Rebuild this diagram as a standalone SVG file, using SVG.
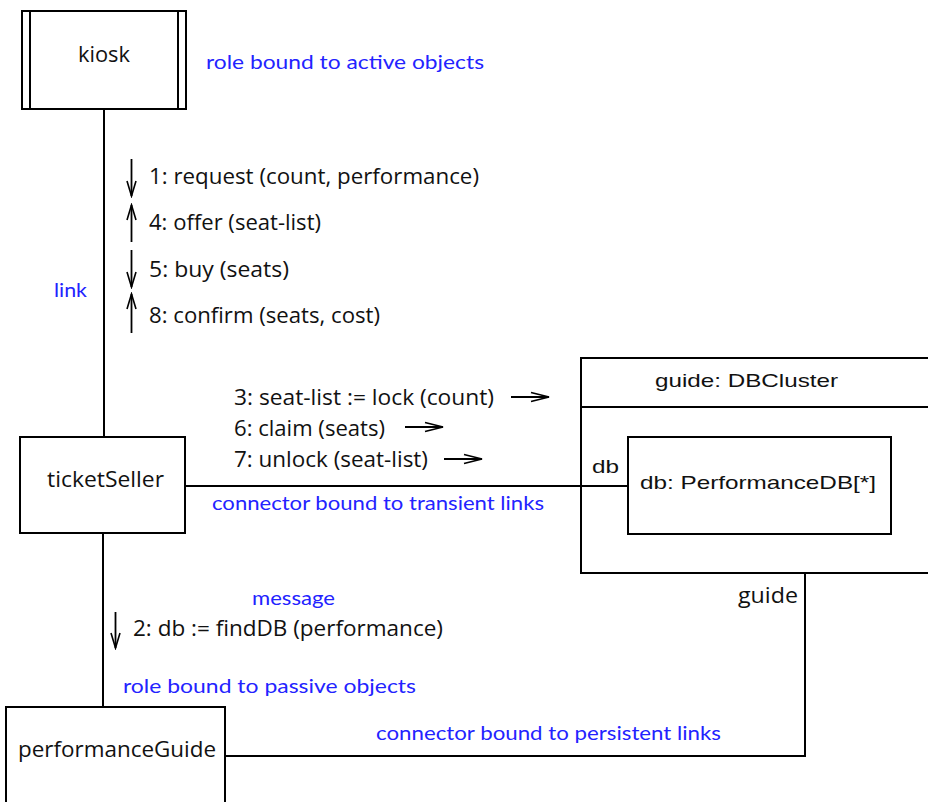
<svg xmlns="http://www.w3.org/2000/svg" width="928" height="802" viewBox="0 0 928 802">
  <style>
    .box { fill: #ffffff; stroke: #000000; stroke-width: 2; }
    .wire { fill: none; stroke: #000000; stroke-width: 2; }
    .msg { fill: none; stroke: #000000; stroke-width: 1.8; }
    .name { font-family: "Open Sans", "Liberation Sans", sans-serif; font-size: 22px; fill: #111111; }
    .lbl { font-family: "Open Sans", "Liberation Sans", sans-serif; font-size: 21px; fill: #111111; }
    .hv { font-family: "Liberation Sans", Arial, sans-serif; font-size: 18.5px; fill: #111111; }
    .note { font-family: Lato, "Liberation Sans", sans-serif; font-size: 19px; fill: #2323ff; }
  </style>
  <defs>
    <marker id="headV" markerUnits="userSpaceOnUse" viewBox="-16 -6 18 12" refX="0" refY="0" markerWidth="18" markerHeight="12" orient="auto">
      <polyline points="-15,-4.5 0,0 -15,4.5" fill="none" stroke="#000000" stroke-width="1.6"/>
    </marker>
    <marker id="headH" markerUnits="userSpaceOnUse" viewBox="-19 -6 21 12" refX="0" refY="0" markerWidth="21" markerHeight="12" orient="auto">
      <polyline points="-18,-4.5 0,0 -18,4.5" fill="none" stroke="#000000" stroke-width="1.6"/>
    </marker>
  </defs>

  <rect width="928" height="802" fill="#ffffff"/>

  <!-- kiosk (active object) -->
  <g id="kiosk">
    <rect class="box" x="22" y="11" width="164" height="98"/>
    <line class="wire" x1="30" y1="11" x2="30" y2="109"/>
    <line class="wire" x1="178" y1="11" x2="178" y2="109"/>
    <text class="name" x="78" y="62" textLength="52" lengthAdjust="spacingAndGlyphs">kiosk</text>
  </g>

  <!-- ticketSeller -->
  <g id="ticketSeller">
    <rect class="box" x="20" y="437" width="165" height="96"/>
    <text class="name" x="47" y="487" textLength="117" lengthAdjust="spacingAndGlyphs">ticketSeller</text>
  </g>

  <!-- performanceGuide -->
  <g id="performanceGuide">
    <rect class="box" x="6" y="707" width="219" height="110"/>
    <text class="name" x="18" y="757" textLength="198" lengthAdjust="spacingAndGlyphs">performanceGuide</text>
  </g>

  <!-- guide: DBCluster with nested db part -->
  <g id="dbCluster">
    <rect class="box" x="581" y="358" width="360" height="215"/>
    <line class="wire" x1="581" y1="407" x2="928" y2="407"/>
    <text class="hv" x="655" y="387" textLength="183" lengthAdjust="spacingAndGlyphs">guide: DBCluster</text>
  </g>
  <g id="performanceDB">
    <rect class="box" x="628" y="437" width="263" height="97"/>
    <text class="hv" x="640" y="489" textLength="236" lengthAdjust="spacingAndGlyphs">db: PerformanceDB[*]</text>
  </g>

  <!-- connectors, drawn over the node fills so the db link crosses the cluster border -->
  <g id="connectors">
    <line class="wire" x1="104" y1="108" x2="104" y2="437"/>
    <line class="wire" x1="103" y1="533" x2="103" y2="707"/>
    <line class="wire" x1="185" y1="486" x2="628" y2="486"/>
    <polyline class="wire" points="225,756 805,756 805,573"/>
  </g>

  <!-- role names at connector ends -->
  <g id="roleNames">
    <text class="hv" x="592" y="473" textLength="27" lengthAdjust="spacingAndGlyphs">db</text>
    <text class="lbl" x="738" y="603" textLength="60" lengthAdjust="spacingAndGlyphs">guide</text>
  </g>

  <!-- messages kiosk <-> ticketSeller -->
  <g id="kioskMessages">
    <line class="msg" x1="131.5" y1="159" x2="131.5" y2="196" marker-end="url(#headV)"/>
    <line class="msg" x1="131.5" y1="242" x2="131.5" y2="205" marker-end="url(#headV)"/>
    <line class="msg" x1="131.5" y1="250" x2="131.5" y2="287" marker-end="url(#headV)"/>
    <line class="msg" x1="131.5" y1="333" x2="131.5" y2="294" marker-end="url(#headV)"/>
    <text class="lbl" x="149" y="184" textLength="330" lengthAdjust="spacingAndGlyphs">1: request (count, performance)</text>
    <text class="lbl" x="149" y="230" textLength="172" lengthAdjust="spacingAndGlyphs">4: offer (seat-list)</text>
    <text class="lbl" x="149" y="277" textLength="140" lengthAdjust="spacingAndGlyphs">5: buy (seats)</text>
    <text class="lbl" x="149" y="323" textLength="231" lengthAdjust="spacingAndGlyphs">8: confirm (seats, cost)</text>
  </g>

  <!-- messages ticketSeller -> db -->
  <g id="dbMessages">
    <line class="msg" x1="511" y1="397" x2="549" y2="397" marker-end="url(#headH)"/>
    <line class="msg" x1="405" y1="427" x2="443" y2="427" marker-end="url(#headH)"/>
    <line class="msg" x1="444" y1="459" x2="482" y2="459" marker-end="url(#headH)"/>
    <text class="lbl" x="234" y="405" textLength="260" lengthAdjust="spacingAndGlyphs">3: seat-list := lock (count)</text>
    <text class="lbl" x="234" y="436" textLength="151" lengthAdjust="spacingAndGlyphs">6: claim (seats)</text>
    <text class="lbl" x="234" y="467" textLength="194" lengthAdjust="spacingAndGlyphs">7: unlock (seat-list)</text>
  </g>

  <!-- message ticketSeller -> performanceGuide -->
  <g id="guideMessage">
    <line class="msg" x1="115.5" y1="612" x2="115.5" y2="648" marker-end="url(#headV)"/>
    <text class="lbl" x="133" y="636" textLength="310" lengthAdjust="spacingAndGlyphs">2: db := findDB (performance)</text>
  </g>

  <!-- annotations -->
  <g id="annotations">
    <text class="note" x="206" y="69" textLength="278" lengthAdjust="spacingAndGlyphs">role bound to active objects</text>
    <text class="note" x="54" y="297" textLength="33" lengthAdjust="spacingAndGlyphs">link</text>
    <text class="note" x="212" y="510" textLength="332" lengthAdjust="spacingAndGlyphs">connector bound to transient links</text>
    <text class="note" x="252" y="605" textLength="83" lengthAdjust="spacingAndGlyphs">message</text>
    <text class="note" x="123" y="693" textLength="293" lengthAdjust="spacingAndGlyphs">role bound to passive objects</text>
    <text class="note" x="376" y="740" textLength="345" lengthAdjust="spacingAndGlyphs">connector bound to persistent links</text>
  </g>
</svg>
